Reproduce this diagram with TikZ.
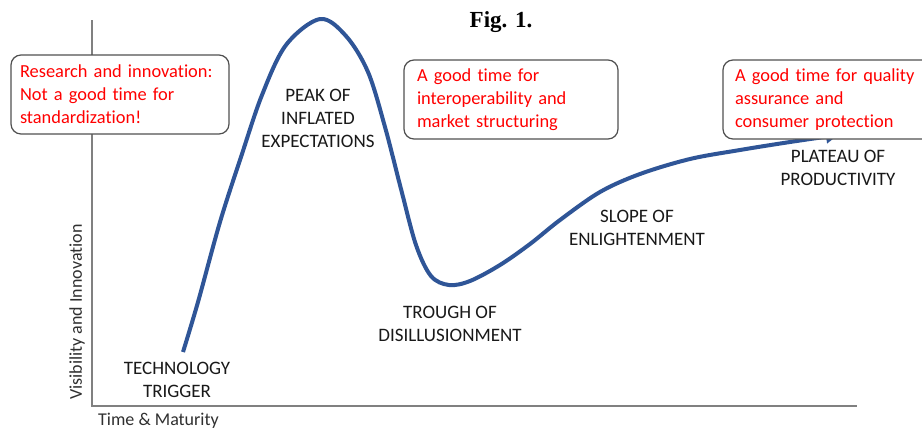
\documentclass[tikz,border=0pt]{standalone}
\usepackage{fontspec}
\setmainfont{Carlito}[Ligatures=NoCommon]
\newfontfamily\captionserif{Liberation Serif}
\usetikzlibrary{arrows.meta}
\definecolor{curveblue}{RGB}{47,85,151}
\definecolor{axisgray}{RGB}{128,128,128}
\definecolor{notered}{RGB}{255,0,0}
\definecolor{boxedge}{RGB}{80,80,80}
\definecolor{labelink}{RGB}{25,25,25}
\begin{document}
\begin{tikzpicture}[x=1pt,y=-1pt,
  phase/.style={text=labelink, align=center, font=\fontsize{19}{23}\selectfont, inner sep=0pt},
  advice/.style={draw=boxedge, line width=1.2pt, rounded corners=10pt, fill=white,
    text=notered, align=left, font=\fontsize{18.4}{23}\selectfont,
    minimum height=79pt, inner ysep=0pt},
  axisline/.style={draw=axisgray, line width=2pt},
  axislabel/.style={text=labelink!90, font=\fontsize{18}{22}\selectfont, inner sep=0pt},
  hype/.style={draw=curveblue, line width=4pt,
    -{Triangle[length=12pt,width=13pt]}}]
% page frame
\clip (0,0) rectangle (922,432);
\fill[white] (0,0) rectangle (922,432);

% title
\node[font=\captionserif\bfseries\fontsize{23}{27}\selectfont, inner sep=0pt] (title) at (501,22) {Fig. 1.};

% axes
\coordinate (ytop) at (92,20);
\coordinate (origin) at (92,406);
\coordinate (xend) at (857,406);
\draw[axisline] (ytop) -- (origin) -- (xend);
\node[axislabel, rotate=90] (ylabel) at (77,312) {Visibility and Innovation};
\node[axislabel] (xlabel) at (158.5,421) {Time \& Maturity};

% hype curve
\draw[hype] plot[smooth, tension=0.55] coordinates {
  (183,352) (198,302) (220,222) (241,157) (262,95) (286,45)
  (320,19) (346,36) (368,72) (385,127) (401,189) (416,245)
  (431,276) (449,285) (470,281) (500,265) (530,244) (560,220)
  (600,192) (640,174) (690,159) (740,150) (790,142) (838,135)};

% advice boxes
\node[advice, text width=200pt, inner xsep=9pt] (research) at (120,94.5)
  {\mbox{Research and innovation:}\\\mbox{Not a good time for}\\\mbox{standardization!}};
\node[advice, text width=188pt, inner xsep=13pt] (interop) at (511,99.5)
  {\mbox{A good time for}\\\mbox{interoperability and}\\\mbox{market structuring}};
\node[advice, text width=186pt, inner xsep=12pt] (quality) at (828,99.5)
  {\mbox{A good time for quality}\\\mbox{assurance and}\\\mbox{consumer protection}};

% phase labels
\node[phase] (trigger) at (177,380) {TECHNOLOGY\\TRIGGER};
\node[phase] (peak) at (318,118) {PEAK OF\\INFLATED\\EXPECTATIONS};
\node[phase] (trough) at (450,324) {TROUGH OF\\DISILLUSIONMENT};
\node[phase] (slope) at (637,227.5) {SLOPE OF\\ENLIGHTENMENT};
\node[phase] (plateau) at (838,167.5) {PLATEAU OF\\PRODUCTIVITY};
\end{tikzpicture}
\end{document}
